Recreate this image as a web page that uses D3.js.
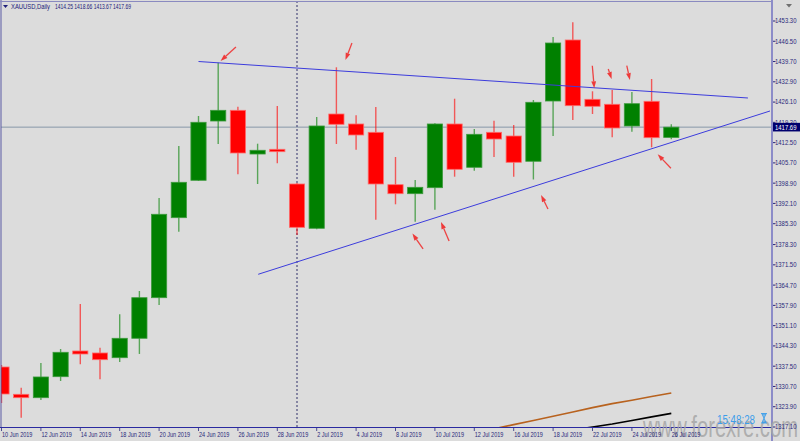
<!DOCTYPE html>
<html><head><meta charset="utf-8">
<script src="https://cdn.jsdelivr.net/npm/d3@7"></script>
<style>body{margin:0;background:#dcdcdc;} svg{display:block}</style>
</head><body>
<svg id="c" width="800" height="441"></svg>
<script>
// ---------- DATA ----------
const dates = ["10 Jun 2019","11 Jun 2019","12 Jun 2019","13 Jun 2019","14 Jun 2019","17 Jun 2019","18 Jun 2019","19 Jun 2019","20 Jun 2019","21 Jun 2019",
"24 Jun 2019","25 Jun 2019","26 Jun 2019","27 Jun 2019","28 Jun 2019","1 Jul 2019","2 Jul 2019","3 Jul 2019","4 Jul 2019","5 Jul 2019",
"8 Jul 2019","9 Jul 2019","10 Jul 2019","11 Jul 2019","12 Jul 2019","15 Jul 2019","16 Jul 2019","17 Jul 2019","18 Jul 2019","19 Jul 2019",
"22 Jul 2019","23 Jul 2019","24 Jul 2019","25 Jul 2019","26 Jul 2019"];
const opens  = [1337.23,1328.07,1326.93,1333.98,1342.60,1341.93,1340.35,1346.86,1360.48,1387.32,1399.86,1419.75,1423.34,1408.68,1410.26,1398.62,1383.76,1422.10,1418.75,1415.96,1398.39,1395.37,1397.38,1418.75,1404.22,1415.96,1414.72,1406.24,1426.46,1446.93,1427.03,1425.36,1418.08,1426.36,1414.25];
const highs  = [1337.90,1330.30,1338.58,1343.27,1358.37,1343.70,1354.91,1362.73,1393.92,1411.37,1421.43,1439.31,1424.55,1412.14,1424.79,1398.96,1421.10,1437.77,1421.67,1424.45,1407.68,1399.96,1418.98,1427.23,1417.07,1419.85,1418.41,1426.80,1447.93,1452.86,1429.72,1430.15,1429.48,1433.84,1418.66];
const lows   = [1325.16,1320.23,1326.16,1332.54,1338.14,1333.10,1338.91,1341.60,1358.03,1382.62,1399.63,1412.04,1401.87,1398.62,1405.56,1381.51,1383.42,1412.04,1410.13,1386.64,1391.81,1385.97,1390.00,1401.07,1403.08,1407.68,1401.07,1400.13,1414.72,1420.09,1422.10,1414.29,1416.16,1410.93,1413.67];
const closes = [1328.17,1326.93,1333.88,1342.16,1341.59,1339.68,1346.86,1360.48,1388.46,1399.19,1419.32,1423.34,1409.02,1409.93,1409.46,1384.09,1418.08,1418.65,1415.06,1398.62,1395.37,1397.51,1418.75,1403.55,1415.29,1413.71,1405.90,1426.03,1445.92,1424.89,1424.69,1417.41,1425.56,1414.15,1417.69];
const yTickLabels = ["1453.30","1446.50","1439.70","1432.90","1426.10","1419.30","1412.50","1405.70","1398.90","1392.10","1385.30","1378.30","1371.50","1364.70","1357.90","1351.10","1344.30","1337.50","1330.70","1323.90","1317.10"];
const lastPrice = 1417.69;
const titleName = "XAUUSD,Daily";
const titleValues = "1414.25 1418.66 1413.67 1417.69";
// moving averages (bottom right), first bar index + values
const maBrownStart = 25;
const maBrown = [1316.5,1317.9,1319.3,1320.7,1322.15,1323.6,1324.95,1326.1,1327.35,1328.5];
const maBlackStart = 29;
const maBlack = [1316.1,1317.1,1318.1,1319.3,1320.5,1321.66];
// trend lines [barIndex, price]
const trendUpper = [[10,1439.71],[37.89,1427.47]];
const trendLower = [[13.03,1368.33],[39.01,1423.11]];
// arrows [tipIndex, tipPrice, tailIndex, tailPrice]
const arrows = [
 [11.12,1439.88,11.90,1444.58],
 [17.46,1440.22,17.79,1445.92],
 [20.86,1382.01,21.40,1376.82],
 [22.31,1385.87,22.72,1379.50],
 [27.39,1394.93,27.74,1390.23],
 [30.09,1430.72,29.99,1438.30],
 [30.97,1433.84,30.80,1437.20],
 [31.90,1433.50,31.74,1438.30],
 [33.31,1408.58,33.98,1403.89]
];
const separatorIndex = 15;
const clockText = "15:48:28";
const watermark = "www.forexre.com";

// ---------- LAYOUT ----------
const svg = d3.select("#c");
const W = 800, H = 441;
const plotL = 1, plotT = 1, plotR = 772, plotB = 427;
const step = 19.7;
const x = d3.scaleLinear().domain([0, 39]).range([1.5, 1.5 + step * 39]);
const y = d3.scaleLinear().domain([1317.1, 1453.3]).range([427, 21]);
const bodyW = 15.2;
const bull = "#008000", bear = "#ff0000";
const axisText = "#28287a";
const font = "Liberation Sans, Arial, sans-serif";

svg.append("rect").attr("width", W).attr("height", H).attr("fill", "#dcdcdc");

svg.append("defs").append("clipPath").attr("id", "plot")
  .append("rect").attr("x", plotL).attr("y", plotT).attr("width", plotR - plotL).attr("height", plotB - plotT);

const g = svg.append("g").attr("clip-path", "url(#plot)");

// current price line
g.append("line").attr("x1", plotL).attr("x2", plotR)
  .attr("y1", y(lastPrice)).attr("y2", y(lastPrice))
  .attr("stroke", "#8898a8").attr("stroke-width", 1);

// period separator
g.append("line").attr("x1", x(separatorIndex)).attr("x2", x(separatorIndex))
  .attr("y1", plotT).attr("y2", plotB)
  .attr("stroke", "#30306a").attr("stroke-width", 1).attr("stroke-dasharray", "2,2");

// candles
const idx = d3.range(dates.length);
const cg = g.append("g");
cg.selectAll("line.wick").data(idx).join("line").attr("class", "wick")
  .attr("x1", i => x(i)).attr("x2", i => x(i))
  .attr("y1", i => y(highs[i])).attr("y2", i => y(lows[i]))
  .attr("stroke", i => closes[i] >= opens[i] ? bull : bear)
  .attr("stroke-opacity", 0.6).attr("stroke-width", 1.4);
cg.selectAll("rect.body").data(idx).join("rect").attr("class", "body")
  .attr("x", i => x(i) - bodyW / 2).attr("width", bodyW)
  .attr("y", i => y(Math.max(opens[i], closes[i])))
  .attr("height", i => Math.max(1.5, Math.abs(y(opens[i]) - y(closes[i]))))
  .attr("fill", i => closes[i] >= opens[i] ? bull : bear)
  .attr("stroke", i => closes[i] >= opens[i] ? "#3c9a3c" : "#ff6a6a")
  .attr("stroke-width", 0.8);

// trendlines
const line = d3.line().x(d => x(d[0])).y(d => y(d[1]));
[trendUpper, trendLower].forEach(t => {
  g.append("path").attr("d", line(t)).attr("fill", "none")
    .attr("stroke", "#3c3cdc").attr("stroke-width", 1);
});

// moving averages
g.append("path").attr("d", line(maBrown.map((v, k) => [maBrownStart + k, v])))
  .attr("fill", "none").attr("stroke", "#b8621e").attr("stroke-width", 1.6);
g.append("path").attr("d", line(maBlack.map((v, k) => [maBlackStart + k, v])))
  .attr("fill", "none").attr("stroke", "#000000").attr("stroke-width", 1.6);

// arrows
const ag = g.append("g");
arrows.forEach(a => {
  const tx = x(a[0]), ty = y(a[1]), sx = x(a[2]), sy = y(a[3]);
  const ang = Math.atan2(ty - sy, tx - sx);
  const hl = 7, hw = 2.4;
  const bx = tx - hl * Math.cos(ang), by = ty - hl * Math.sin(ang);
  const px = -Math.sin(ang) * hw, py = Math.cos(ang) * hw;
  ag.append("line").attr("x1", sx).attr("y1", sy).attr("x2", bx).attr("y2", by)
    .attr("stroke", "#f02828").attr("stroke-width", 1.3).attr("stroke-opacity", 0.85);
  ag.append("path").attr("d", `M${tx},${ty}L${bx + px},${by + py}L${bx - px},${by - py}Z`)
    .attr("fill", "#f02828").attr("fill-opacity", 0.9);
});

// borders
svg.append("line").attr("x1", plotL).attr("x2", plotL).attr("y1", 0).attr("y2", plotB)
  .attr("stroke", "#5a5aa4").attr("stroke-width", 1);
svg.append("line").attr("x1", 0).attr("x2", plotR).attr("y1", 1.5).attr("y2", 1.5)
  .attr("stroke", "#8a8ac0").attr("stroke-width", 1);
svg.append("line").attr("x1", plotR).attr("x2", plotR).attr("y1", 0).attr("y2", H)
  .attr("stroke", "#8c8cc8").attr("stroke-width", 2);
svg.append("line").attr("x1", 0).attr("x2", plotR).attr("y1", plotB + 0.5).attr("y2", plotB + 0.5)
  .attr("stroke", "#2a2aa0").attr("stroke-width", 1);

// watermark
svg.append("text").attr("x", 643).attr("y", 437)
  .attr("font-family", font).attr("font-size", 30)
  .attr("textLength", 155).attr("lengthAdjust", "spacingAndGlyphs")
  .attr("fill", "#a6a6a6").attr("fill-opacity", 0.85).text(watermark);

// right axis
const ra = svg.append("g");
yTickLabels.forEach(s => {
  const v = parseFloat(s), yy = y(v);
  ra.append("line").attr("x1", plotR + 1).attr("x2", plotR + 3.5).attr("y1", yy).attr("y2", yy)
    .attr("stroke", axisText).attr("stroke-width", 1);
  ra.append("text").attr("transform", `translate(775,${yy + 2.4}) scale(0.9,1)`)
    .attr("font-family", font).attr("font-size", 6.6)
    .attr("fill", axisText).text(s);
});
// last price box
const ly = y(lastPrice);
svg.append("rect").attr("x", plotR + 1).attr("y", ly - 4.3).attr("width", 27).attr("height", 8.6)
  .attr("fill", "#00006e");
svg.append("text").attr("transform", `translate(775,${ly + 2.4}) scale(0.9,1)`)
  .attr("font-family", font).attr("font-size", 6.6)
  .attr("fill", "#ffffff").text(lastPrice.toFixed(2));

// bottom axis
const ba = svg.append("g");
idx.filter(i => i % 2 === 0).forEach(i => {
  const xx = x(i);
  ba.append("line").attr("x1", xx).attr("x2", xx).attr("y1", plotB + 1).attr("y2", plotB + 4)
    .attr("stroke", axisText).attr("stroke-width", 0.8);
  ba.append("text").attr("transform", `translate(${xx + 0.5},437) scale(0.84,1)`)
    .attr("font-family", font).attr("font-size", 6.6)
    .attr("fill", axisText).text(dates[i]);
});

// title
svg.append("path").attr("d", "M3,5L8,5L5.5,8Z").attr("fill", "#20207a");
svg.append("text").attr("x", 11).attr("y", 9)
  .attr("font-family", font).attr("font-size", 7.2)
  .attr("textLength", 39).attr("lengthAdjust", "spacingAndGlyphs")
  .attr("fill", "#20207a").text(titleName);
svg.append("text").attr("x", 55).attr("y", 9)
  .attr("font-family", font).attr("font-size", 7.2)
  .attr("textLength", 76).attr("lengthAdjust", "spacingAndGlyphs")
  .attr("fill", "#20207a").text(titleValues);
// top-right small triangle
svg.append("path").attr("d", "M786,4L792,4L789,7.5Z").attr("fill", "#707070");

// clock
svg.append("text").attr("x", 717).attr("y", 423.5)
  .attr("font-family", font).attr("font-size", 12.5)
  .attr("textLength", 38).attr("lengthAdjust", "spacingAndGlyphs")
  .attr("fill", "#3d9eea").text(clockText);
svg.append("path")
  .attr("d", "M761,413.5L767,413.5M761,423L767,423M762,414L766,414L764,418.2Z M764,418.2L762,422.5L766,422.5Z")
  .attr("stroke", "#3d9eea").attr("stroke-width", 0.9).attr("fill", "#3d9eea").attr("fill-opacity", 0.5);
</script>
</body></html>
